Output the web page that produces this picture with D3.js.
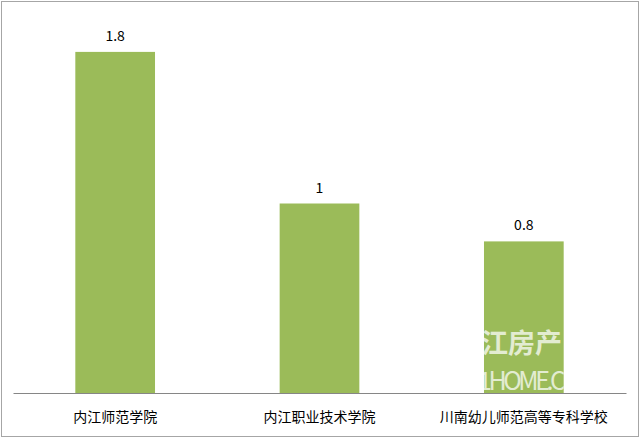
<!DOCTYPE html>
<html>
<head>
<meta charset="utf-8">
<script src="https://cdn.jsdelivr.net/npm/d3@7"></script>
<style>
  body { margin: 0; background: #fff; }
  text { font-family: "Noto Sans CJK SC", "Noto Sans", sans-serif; }
</style>
</head>
<body>
<script>
"use strict";

// Width and height
let w = 640;
let h = 438;

// data
let categories = ["内江师范学院", "内江职业技术学院", "川南幼儿师范高等专科学校"];
let values = [1.8, 1, 0.8];
let valueLabels = ["1.8", "1", "0.8"];

let svg = d3.select("body")
    .append("svg")
    .attr("width", w)
    .attr("height", h);

// outer frame
svg.append("rect")
    .attr("x", 1.5).attr("y", 1.5)
    .attr("width", w - 3).attr("height", h - 3)
    .attr("fill", "#fff")
    .attr("stroke", "#a6a6a6")
    .attr("stroke-width", 1);

let x = d3.scaleBand()
    .domain(categories)
    .range([13, 626]);

let y = d3.scaleLinear()
    .domain([0, 2])
    .range([393, 14]);

let barW = x.bandwidth() * 0.39;

let bars = svg.append("g")
    .selectAll("rect")
    .data(categories)
    .enter().append("rect")
    .attr("x", d => x(d) + (x.bandwidth() - barW) / 2)
    .attr("y", (d, i) => y(values[i]))
    .attr("width", barW)
    .attr("height", (d, i) => y(0) - y(values[i]))
    .attr("fill", "#9bbb59");

// watermark, only shows over the green bars
let clip = svg.append("clipPath").attr("id", "barclip");
clip.selectAll("rect")
    .data(categories)
    .enter().append("rect")
    .attr("x", d => x(d) + (x.bandwidth() - barW) / 2)
    .attr("y", (d, i) => y(values[i]))
    .attr("width", barW)
    .attr("height", (d, i) => y(0) - y(values[i]));

let wm = svg.append("g").attr("clip-path", "url(#barclip)")
    .attr("fill", "#fff").attr("opacity", 0.72);
wm.append("text")
    .attr("x", 562).attr("y", 353)
    .attr("text-anchor", "end")
    .attr("font-size", 27).attr("font-weight", "bold")
    .text("内江房产");
wm.append("text")
    .attr("x", 566).attr("y", 390)
    .attr("text-anchor", "end")
    .attr("font-size", 25)
    .attr("textLength", 88)
    .text("1HOME.C");

// value labels
svg.append("g")
    .selectAll("text")
    .data(categories)
    .enter().append("text")
    .attr("x", d => x(d) + x.bandwidth() / 2)
    .attr("y", (d, i) => y(values[i]) - 11)
    .attr("text-anchor", "middle")
    .attr("font-size", 14)
    .attr("fill", "#000")
    .text((d, i) => valueLabels[i]);

// x axis
let xAxis = svg.append("g")
    .attr("transform", `translate(0,${y(0)})`)
    .call(d3.axisBottom(x).tickSize(0).tickPadding(19));
xAxis.select(".domain").attr("stroke", "#868686");
xAxis.selectAll("text")
    .attr("font-size", 14)
    .attr("fill", "#000")
    .style("font-family", "'Noto Sans CJK SC', sans-serif");
</script>
</body>
</html>
